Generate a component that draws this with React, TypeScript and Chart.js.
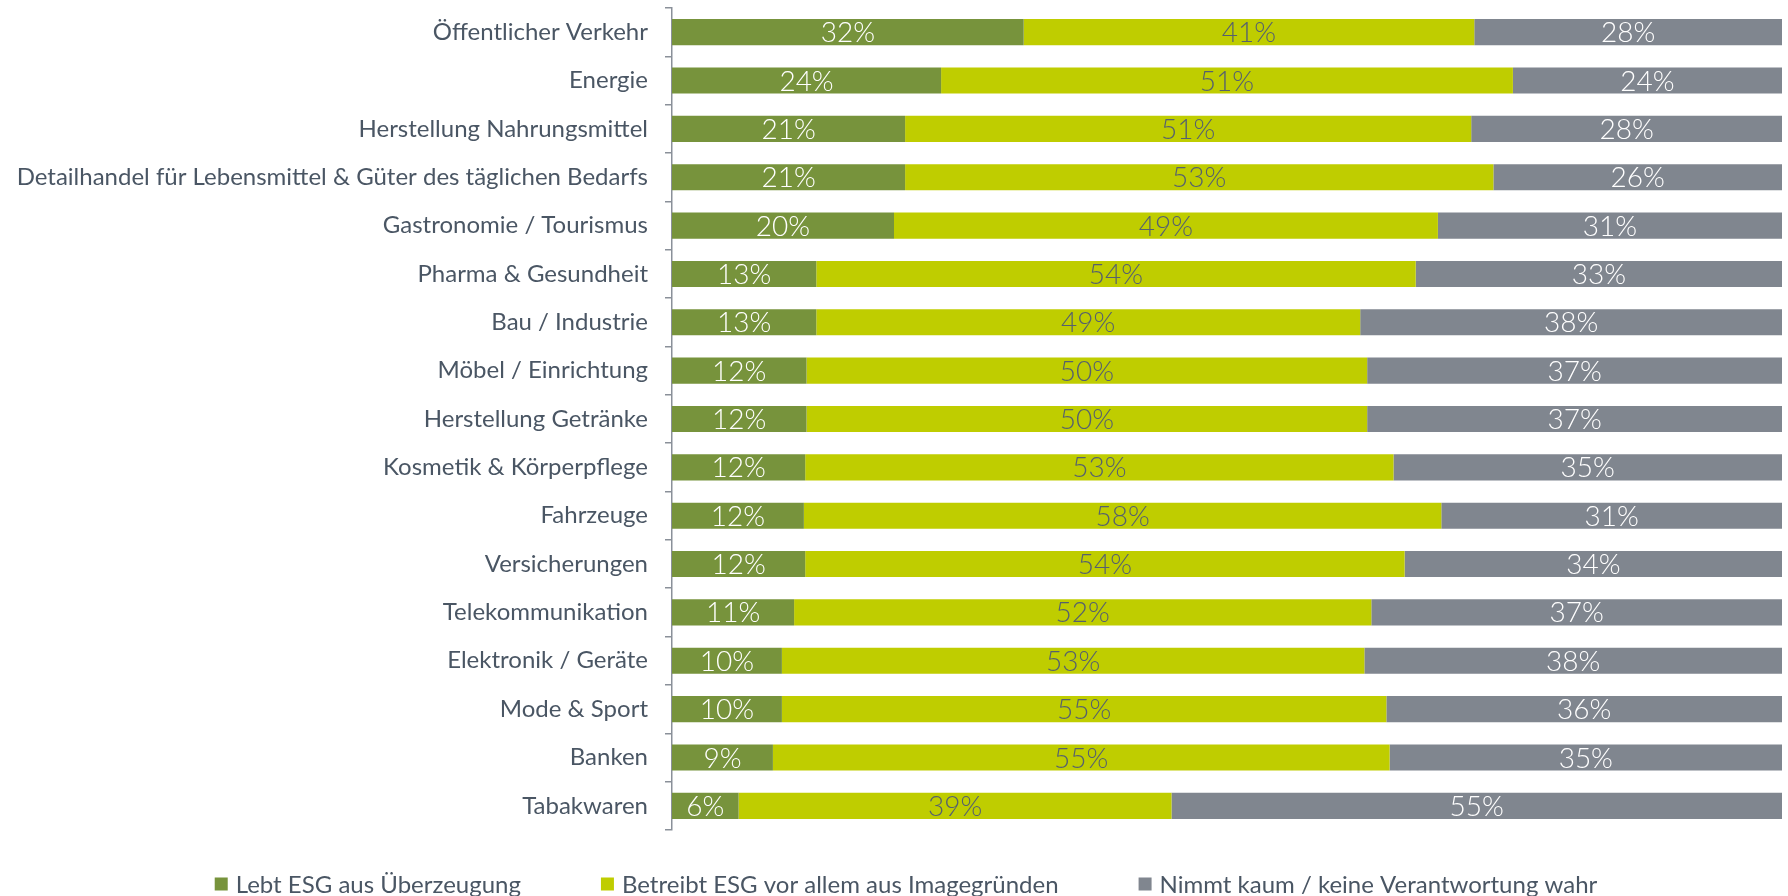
import React, { useEffect, useRef } from "react";
import { Chart, registerables } from "chart.js";

Chart.register(...registerables);

const categories = [
  "Öffentlicher Verkehr",
  "Energie",
  "Herstellung Nahrungsmittel",
  "Detailhandel für Lebensmittel & Güter des täglichen Bedarfs",
  "Gastronomie / Tourismus",
  "Pharma & Gesundheit",
  "Bau / Industrie",
  "Möbel / Einrichtung",
  "Herstellung Getränke",
  "Kosmetik & Körperpflege",
  "Fahrzeuge",
  "Versicherungen",
  "Telekommunikation",
  "Elektronik / Geräte",
  "Mode & Sport",
  "Banken",
  "Tabakwaren",
];

const ueberzeugung = [32, 24, 21, 21, 20, 13, 13, 12, 12, 12, 12, 12, 11, 10, 10, 9, 6];
const image = [41, 51, 51, 53, 49, 54, 49, 50, 50, 53, 58, 54, 52, 53, 55, 55, 39];
const kaum = [28, 24, 28, 26, 31, 33, 38, 37, 37, 35, 31, 34, 37, 38, 36, 35, 55];

const seriesNames = [
  "Lebt ESG aus Überzeugung",
  "Betreibt ESG vor allem aus Imagegründen",
  "Nimmt kaum / keine Verantwortung wahr",
];

const FONT = "Lato, 'Open Sans', sans-serif";
const TEXT = "#4A5664";

export default function App() {
  const ref = useRef<HTMLCanvasElement | null>(null);

  useEffect(() => {
    document.body.style.margin = "0";
    const raw = [ueberzeugung, image, kaum];
    const totals = categories.map((_, i) => raw[0][i] + raw[1][i] + raw[2][i]);
    const colors = ["#77933C", "#BFCD00", "#80868F"];
    const labelColors = ["#FFFFFF", "#55606E", "#FFFFFF"];

    const labelPlugin = {
      id: "barLabels",
      afterDatasetsDraw(chart: any) {
        const ctx = chart.ctx;
        ctx.save();
        ctx.font = `300 28px ${FONT}`;
        ctx.textAlign = "center";
        ctx.textBaseline = "middle";
        chart.data.datasets.forEach((ds: any, di: number) => {
          const meta = chart.getDatasetMeta(di);
          meta.data.forEach((bar: any, i: number) => {
            const cx = (bar.x + bar.base) / 2;
            ctx.fillStyle = labelColors[di];
            ctx.fillText(raw[di][i] + "%", cx, bar.y + 1);
          });
        });
        ctx.restore();
      },
    };

    const legendPlugin = {
      id: "customLegend",
      afterDraw(chart: any) {
        const ctx = chart.ctx;
        ctx.save();
        ctx.font = `24px ${FONT}`;
        ctx.textBaseline = "middle";
        ctx.textAlign = "left";
        const box = 13;
        const boxGap = 8;
        const itemGap = 80;
        const widths = seriesNames.map((n) => box + boxGap + ctx.measureText(n).width);
        const total = widths.reduce((a, b) => a + b, 0) + itemGap * (widths.length - 1);
        let x = 906 - total / 2;
        const y = 884;
        seriesNames.forEach((n, i) => {
          ctx.fillStyle = colors[i];
          ctx.fillRect(x, y - box / 2, box, box);
          ctx.fillStyle = TEXT;
          ctx.fillText(n, x + box + boxGap, y + 1);
          x += widths[i] + itemGap;
        });
        ctx.restore();
      },
    };

    const chart = new Chart(ref.current!, {
      type: "bar",
      data: {
        labels: categories,
        datasets: raw.map((arr, di) => ({
          label: seriesNames[di],
          data: arr.map((v, i) => (v / totals[i]) * 100),
          backgroundColor: colors[di],
          borderWidth: 0,
          barPercentage: 0.54,
          categoryPercentage: 1,
        })),
      },
      options: {
        indexAxis: "y",
        animation: false,
        responsive: false,
        maintainAspectRatio: false,
        layout: { padding: { top: 8, right: 6, left: 0, bottom: 66 } },
        scales: {
          x: {
            stacked: true,
            min: 0,
            max: 100,
            display: false,
          },
          y: {
            stacked: true,
            afterFit: (scale: any) => {
              scale.width = 672;
              scale.paddingTop = 0;
              scale.paddingBottom = 0;
            },
            border: { display: true, color: "#8A9099", width: 1.5 },
            grid: {
              offset: true,
              drawOnChartArea: false,
              drawTicks: true,
              tickLength: 7,
              color: "#8A9099",
              lineWidth: 1.5,
            },
            ticks: {
              color: TEXT,
              font: { family: FONT, size: 24 },
              padding: 17,
            },
          },
        },
        plugins: {
          legend: { display: false },
          tooltip: { enabled: false },
        },
      },
      plugins: [labelPlugin, legendPlugin],
    });
    return () => chart.destroy();
  }, []);

  return (
    <div style={{ width: 1788, height: 896 }}>
      <canvas ref={ref} width={1788} height={896} style={{ width: 1788, height: 896, display: "block" }} />
    </div>
  );
}
